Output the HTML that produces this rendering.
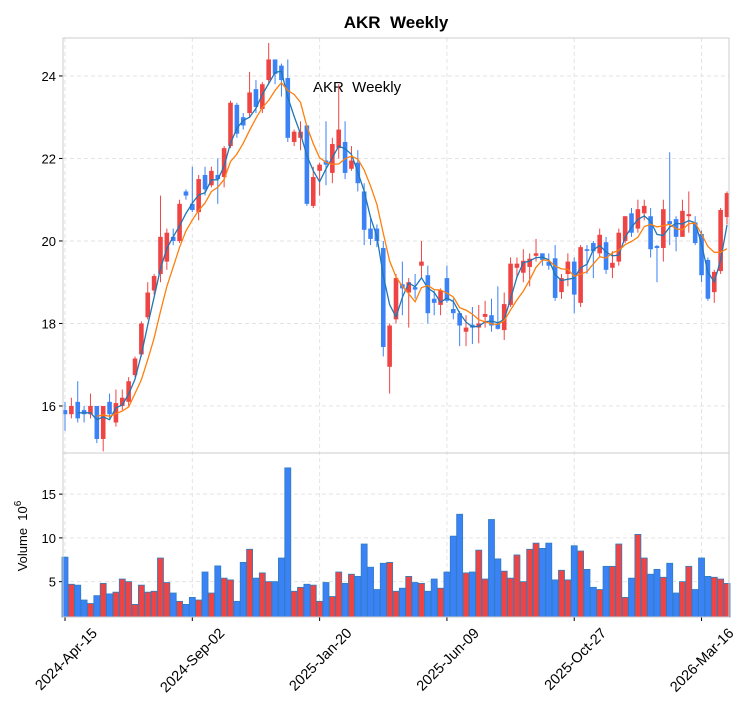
<!DOCTYPE html>
<html><head><meta charset="utf-8"><style>
body{margin:0;background:#fff;width:750px;height:712px;overflow:hidden}
svg{font-family:"Liberation Sans","DejaVu Sans",sans-serif}
</style></head><body>
<svg id="c" width="750" height="712" xmlns="http://www.w3.org/2000/svg">
<text x="396" y="28" text-anchor="middle" font-size="17" font-weight="bold">AKR&#160;&#160;Weekly</text>
<text x="313" y="92" font-size="15">AKR&#160;&#160;Weekly</text>
<text transform="translate(27,536) rotate(-90)" text-anchor="middle" font-size="13">Volume&#160;&#160;10<tspan dy="-6" font-size="10">6</tspan></text>
</svg>
<script>
const opens=[15.9,15.8,16.1,15.9,15.8,16.0,15.2,16.1,15.6,16.0,16.1,16.75,17.25,18.15,18.8,19.2,19.5,20.1,20.0,21.2,20.9,20.7,21.6,21.35,21.6,21.55,22.3,23.3,23.0,23.1,23.68,23.2,23.9,24.4,24.25,23.95,22.4,22.5,22.8,20.85,21.7,21.95,21.65,22.25,22.4,21.75,21.9,21.2,20.3,20.3,19.83,16.95,18.1,18.95,18.75,18.88,19.4,19.17,18.6,18.45,19.1,18.35,18.25,17.8,17.97,17.9,18.16,18.2,18.0,17.84,18.45,19.35,19.23,19.37,19.64,19.7,19.5,19.58,18.76,19.2,19.5,18.5,19.8,19.95,19.7,19.97,19.35,19.5,20.0,20.67,20.3,20.67,20.6,19.88,19.83,20.48,20.53,20.1,20.6,20.45,20.17,19.54,18.76,19.27,20.58];
const closes=[15.8,16.0,15.7,15.8,16.0,15.2,16.0,15.8,16.07,16.2,16.6,17.15,18.0,18.75,19.15,20.1,20.2,20.0,20.9,21.1,20.75,21.5,21.25,21.7,21.5,22.25,23.35,22.6,22.8,23.6,23.25,23.8,24.4,24.05,23.9,22.5,22.65,22.65,20.9,21.55,21.85,21.85,22.35,22.7,21.65,21.95,21.4,20.27,20.05,20.0,17.43,17.95,19.1,18.85,19.0,18.82,19.5,18.25,18.5,18.8,18.55,18.25,17.95,17.9,17.9,18.0,18.23,17.95,17.87,18.47,19.45,19.45,19.52,19.57,19.7,19.54,19.4,18.62,19.1,19.5,18.7,19.85,19.76,19.75,20.15,19.3,19.47,20.2,20.6,20.2,20.77,20.85,19.8,19.83,20.77,20.41,20.1,20.73,20.65,19.95,19.17,18.6,19.25,20.75,21.16];
const highs=[16.1,16.2,16.6,16.0,16.3,16.0,16.0,16.3,16.4,16.4,16.7,17.2,18.05,19.0,19.2,21.1,20.3,20.3,21.0,21.25,21.8,21.6,21.8,21.8,22.0,22.3,23.4,23.35,23.1,24.1,23.9,23.85,24.8,24.4,24.3,24.4,22.7,22.9,22.8,21.8,21.9,22.9,22.5,23.8,22.9,22.3,22.2,21.4,20.6,20.4,20.0,18.0,19.2,19.5,19.1,19.2,20.0,19.4,18.8,18.85,19.4,18.6,18.3,18.2,18.4,18.45,18.55,18.6,18.9,18.75,19.6,19.6,19.8,19.7,20.05,19.7,19.7,19.9,19.2,19.7,19.6,19.9,19.9,20.0,20.3,20.1,19.75,20.3,20.6,20.8,21.0,21.0,20.8,19.9,21.0,22.15,20.6,21.0,21.2,20.6,20.25,19.6,19.3,20.8,21.2];
const lows=[15.4,15.7,15.6,15.6,15.7,15.1,14.9,15.7,15.5,15.9,16.0,16.7,17.2,18.1,18.7,19.0,19.3,19.9,19.95,21.0,20.7,20.5,21.1,21.3,20.9,21.3,22.25,22.5,22.7,23.0,23.1,23.1,23.8,23.8,23.5,22.4,22.3,22.2,20.85,20.8,21.1,21.35,21.4,22.0,21.5,21.7,21.2,19.9,19.9,19.85,17.2,16.3,18.0,18.2,17.9,18.6,19.1,18.0,18.2,18.2,18.5,18.1,17.45,17.45,17.5,17.52,17.9,17.8,17.85,17.6,18.4,19.1,19.0,18.9,19.5,19.4,19.3,18.55,18.6,18.9,18.25,18.4,19.2,19.1,19.6,19.2,19.1,19.4,19.95,20.1,20.2,20.5,19.6,19.0,19.5,19.9,19.75,20.1,20.2,19.9,19.0,18.55,18.5,19.2,20.4];
const volumes=[7.8,4.7,4.6,2.9,2.5,3.4,4.8,3.6,3.8,5.3,5.0,2.4,4.6,3.8,3.9,7.7,4.9,3.7,2.75,2.4,3.2,2.9,6.1,3.7,6.8,5.4,5.2,2.75,7.2,8.7,5.4,6.0,5.0,5.0,7.7,18.0,3.9,4.35,4.7,4.6,2.75,4.9,3.3,6.1,4.8,5.85,5.6,9.3,6.65,4.1,7.1,7.2,3.9,4.25,5.6,4.9,4.8,3.9,5.3,4.25,6.1,10.2,12.7,6.0,6.1,8.6,5.3,12.1,7.6,6.2,5.4,8.05,5.0,8.7,9.4,8.8,9.4,5.2,6.3,5.2,9.1,8.5,6.4,4.35,4.1,6.75,6.75,9.3,3.2,5.4,10.4,7.7,5.85,6.4,5.5,7.1,3.7,5.0,6.75,4.1,7.7,5.6,5.5,5.3,4.8];
const dateLabels=["2024-Apr-15","2024-Sep-02","2025-Jan-20","2025-Jun-09","2025-Oct-27","2026-Mar-16"];
const dateIdx=[0,20,40,60,80,100];
const priceTicks=[16,18,20,22,24];
const volTicks=[5,10,15];
const maPeriods=[3,6];

const NS="http://www.w3.org/2000/svg";
const svg=document.getElementById('c');
const L=63,R=729,PT=38,PB=453,VT=453,VB=617;
const n=closes.length;
const x=i=>65+i*(R-2-65)/(n-1);
const py=v=>PB-(v-14.86)/(24.92-14.86)*(PB-PT);
const vy=v=>VB-(v-0.96)/(19.7-0.96)*(VB-VT);
function mk(t,a,parent){const e=document.createElementNS(NS,t);for(const k in a)e.setAttribute(k,a[k]);(parent||svg).appendChild(e);return e;}
priceTicks.forEach(t=>{const g=mk('line',{x1:L,x2:R,y1:py(t),y2:py(t),stroke:'#e3e3e3','stroke-dasharray':'4,3'});


mk('line',{x1:L-4,x2:L,y1:py(t),y2:py(t),stroke:'#000'});
const tx=mk('text',{x:L-7,y:py(t)+5,'text-anchor':'end','font-size':13});tx.textContent=t;

});
volTicks.forEach(t=>{const g=mk('line',{x1:L,x2:R,y1:vy(t),y2:vy(t),stroke:'#e3e3e3','stroke-dasharray':'4,3'});


mk('line',{x1:L-4,x2:L,y1:vy(t),y2:vy(t),stroke:'#000'});
const tx=mk('text',{x:L-7,y:vy(t)+5,'text-anchor':'end','font-size':13});tx.textContent=t;

});
dateIdx.forEach((d,k)=>{const X=x(d);
const g=mk('line',{x1:X,x2:X,y1:PT,y2:VB,stroke:'#e3e3e3','stroke-dasharray':'4,3'});


mk('line',{x1:X,x2:X,y1:VB,y2:VB+4,stroke:'#000'});
const tx=mk('text',{transform:`translate(${X+33},${VB+17}) rotate(-45)`,'text-anchor':'end','font-size':14.5});tx.textContent=dateLabels[k];

});
for(let i=0;i<n;i++){const up=closes[i]>=opens[i];const col=up?'#ef4444':'#3b82f6';const X=x(i);
const w=mk('line',{x1:X,x2:X,y1:py(highs[i]),y2:py(lows[i]),stroke:col,'stroke-width':1});


const t=py(Math.max(opens[i],closes[i])),b=py(Math.min(opens[i],closes[i]));
const r=mk('rect',{x:X-2.3,y:t,width:4.6,height:Math.max(b-t,1),fill:col});


const vb=mk('rect',{x:X-3,y:vy(volumes[i]),width:6,height:VB-vy(volumes[i]),fill:col,stroke:'#2f7ec0','stroke-width':0.8});

}
const maCols=['#1f77b4','#ff7f0e'];
maPeriods.forEach((p,k)=>{let d='';for(let i=p-1;i<n;i++){let s=0;for(let j=i-p+1;j<=i;j++)s+=closes[j];d+=(d?'L':'M')+x(i).toFixed(1)+','+py(s/p).toFixed(1);}
const pl=mk('path',{d:d,fill:'none',stroke:maCols[k],'stroke-width':1.3});

});
const f1=mk('rect',{x:L,y:PT,width:R-L,height:PB-PT,fill:'none',stroke:'#ccc'});


const f2=mk('rect',{x:L,y:VT,width:R-L,height:VB-VT,fill:'none',stroke:'#ccc'});


</script>
</body></html>
